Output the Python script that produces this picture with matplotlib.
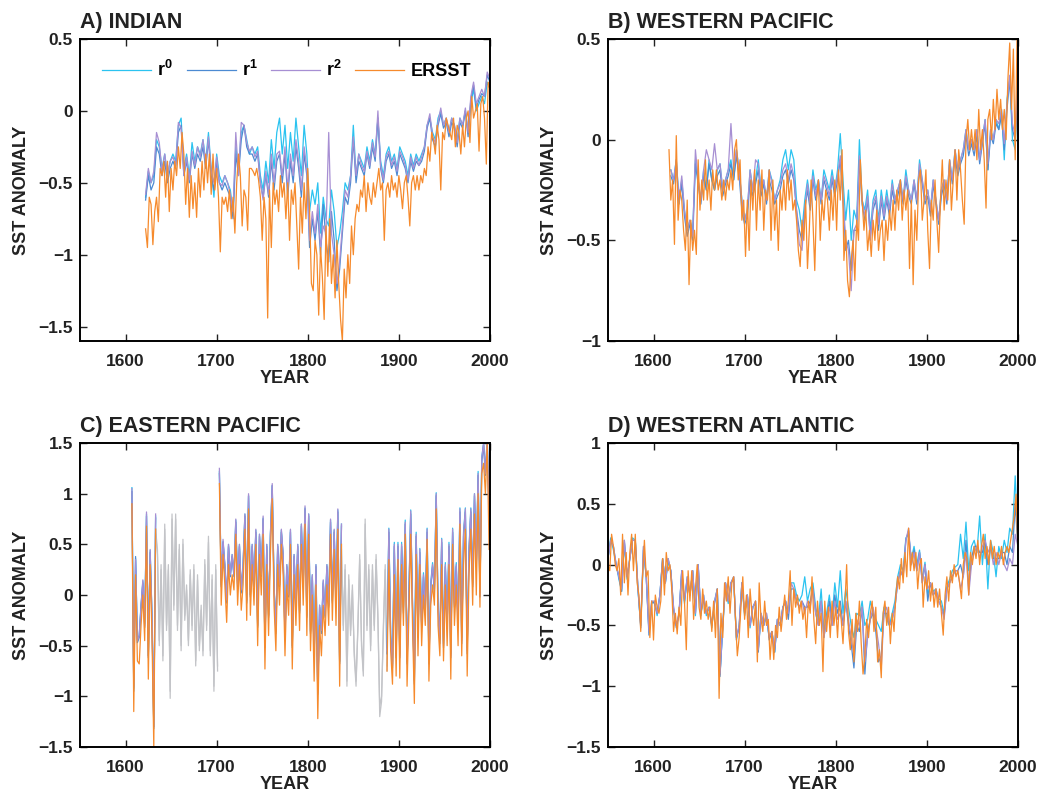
import numpy as np
import matplotlib
matplotlib.use('Agg')
import matplotlib.pyplot as plt
from matplotlib.ticker import FuncFormatter

plt.rcParams['font.family'] = ['Liberation Sans', 'DejaVu Sans']
plt.rcParams['font.weight'] = 'bold'
plt.rcParams['mathtext.fontset'] = 'custom'
plt.rcParams['mathtext.rm'] = 'Liberation Sans:bold'
plt.rcParams['mathtext.it'] = 'Liberation Sans:bold'
plt.rcParams['mathtext.bf'] = 'Liberation Sans:bold'

# ====================================================================
## A) INDIAN : ERSST every 2 yr from 1622, r-series every 3 yr from 1622
ersst_a = [-0.82, -0.95, -0.6, -0.65, -0.93, -0.7, -0.6, -0.77, -0.4, -0.45,
           -0.35, -0.6, -0.35, -0.7, -0.4, -0.55, -0.35, -0.45, -0.25, -0.4,
           -0.15, -0.3, -0.65, -0.4, -0.74, -0.45, -0.68, -0.5, -0.74, -0.4,
           -0.6, -0.35, -0.55, -0.3, -0.5, -0.3, -0.58, -0.3, -0.55, -0.4,
           -0.6, -0.98, -0.6, -0.65, -0.6, -0.7, -0.55, -0.75, -0.6, -0.85,
           -0.5, -0.3, -0.45, -0.8, -0.55, -0.6, -0.83, -0.4, -0.4, -0.42,
           -0.45, -0.4, -0.48, -0.6, -0.9, -0.6, -0.75, -1.44, -0.55, -0.95,
           -0.5, -0.65, -0.55, -0.7, -0.45, -0.6, -0.5, -0.75, -0.5, -0.9,
           -0.55, -0.65, -0.5, -0.8, -1.1, -0.6, -0.85, -0.5, -0.75, -0.4,
           -0.7, -1.2, -1.25, -0.9, -1.0, -1.42, -0.95, -1.15, -1.45, -0.8,
           -1.15, -0.75, -1.2, -1.0, -1.3, -0.9, -1.2, -1.45, -1.6, -1.1,
           -1.3, -1.0, -1.2, -0.8, -1.0, -0.75, -0.65, -0.7, -0.55, -0.6,
           -0.45, -0.7, -0.5, -0.6, -0.65, -0.5, -0.6, -0.5, -0.4, -0.55,
           -0.5, -0.9, -0.55, -0.5, -0.6, -0.45, -0.55, -0.5, -0.6, -0.45,
           -0.55, -0.68, -0.5, -0.45, -0.6, -0.8, -0.5, -0.45, -0.55, -0.45,
           -0.55, -0.45, -0.5, -0.4, -0.45, -0.25, -0.35, -0.15, -0.2, -0.3,
           -0.1, -0.2, -0.55, -0.15, -0.2, -0.05, -0.1, -0.15, -0.2, -0.05,
           -0.25, -0.1, -0.15, -0.3, -0.1, -0.25, -0.05, 0.0, -0.22, 0.1,
           -0.05, 0.0, 0.05, -0.28, 0.05, 0.1, -0.05, -0.37, 0.2, 0.15]
r0_a = [-0.6, -0.42, -0.5, -0.45, -0.2, -0.25, -0.4, -0.3, -0.45, -0.35,
        -0.3, -0.35, -0.1, -0.05, -0.4, -0.3, -0.45, -0.22, -0.35, -0.25,
        -0.3, -0.2, -0.35, -0.15, -0.4, -0.6, -0.3, -0.45, -0.5, -0.45,
        -0.5, -0.55, -0.7, -0.25, -0.4, -0.15, -0.1, -0.2, -0.3, -0.25,
        -0.3, -0.25, -0.45, -0.55, -0.35, -0.5, -0.2, -0.4, -0.15, -0.05,
        -0.3, -0.1, -0.4, -0.15, -0.35, -0.05, -0.25, -0.45, -0.1, -0.3,
        -0.7, -0.55, -0.65, -0.5, -0.85, -0.6, -0.75, -0.8, -0.55, -0.7,
        -0.95, -0.85, -0.7, -0.5, -0.55, -0.45, -0.1, -0.45, -0.3, -0.35,
        -0.4, -0.25, -0.35, -0.2, -0.3, -0.05, -0.35, -0.45, -0.3, -0.25,
        -0.35, -0.3, -0.4, -0.25, -0.3, -0.35, -0.45, -0.3, -0.38, -0.3,
        -0.35, -0.3, -0.25, -0.1, -0.05, -0.15, -0.2, -0.05, 0.0, -0.1,
        -0.05, -0.15, -0.05, -0.1, -0.2, -0.05, -0.1, 0.0, -0.15, 0.05,
        0.15, 0.0, 0.05, 0.1, 0.05, 0.2, 0.15]
r1_a = [-0.62, -0.45, -0.55, -0.5, -0.25, -0.3, -0.45, -0.35, -0.5, -0.4,
        -0.35, -0.4, -0.15, -0.1, -0.45, -0.35, -0.5, -0.3, -0.4, -0.3,
        -0.35, -0.25, -0.4, -0.2, -0.45, -0.55, -0.35, -0.5, -0.55, -0.5,
        -0.55, -0.6, -0.75, -0.3, -0.45, -0.2, -0.1, -0.25, -0.3, -0.3,
        -0.35, -0.3, -0.5, -0.6, -0.45, -0.6, -0.35, -0.55, -0.35, -0.3,
        -0.5, -0.3, -0.6, -0.35, -0.5, -0.25, -0.4, -0.6, -0.3, -0.45,
        -0.95, -0.75, -0.9, -0.7, -1.0, -0.65, -0.9, -1.05, -0.7, -0.9,
        -1.25, -1.1, -0.85, -0.6, -0.65, -0.5, -0.2, -0.5, -0.35, -0.4,
        -0.45, -0.3, -0.4, -0.25, -0.35, -0.05, -0.4, -0.5, -0.35, -0.3,
        -0.4, -0.35, -0.45, -0.3, -0.35, -0.4, -0.5, -0.35, -0.42, -0.35,
        -0.38, -0.35, -0.28, -0.12, -0.05, -0.2, -0.25, -0.1, -0.02, -0.12,
        -0.08, -0.18, -0.08, -0.12, -0.25, -0.08, -0.12, 0.0, -0.18, 0.08,
        0.18, 0.02, 0.08, 0.12, 0.1, 0.25, 0.2]
r2_a = [-0.58, -0.4, -0.5, -0.42, -0.15, -0.22, -0.42, -0.3, -0.45, -0.35,
        -0.32, -0.38, -0.08, -0.12, -0.45, -0.32, -0.48, -0.28, -0.38, -0.25,
        -0.32, -0.2, -0.38, -0.18, -0.42, -0.5, -0.32, -0.5, -0.52, -0.45,
        -0.5, -0.58, -0.7, -0.15, -0.45, -0.08, -0.1, -0.22, -0.28, -0.25,
        -0.32, -0.28, -0.5, -0.62, -0.42, -0.58, -0.3, -0.5, -0.3, -0.28,
        -0.45, -0.25, -0.55, -0.3, -0.45, -0.2, -0.35, -0.55, -0.25, -0.4,
        -0.9, -0.7, -0.85, -0.65, -0.95, -0.8, -0.85, -0.15, -0.85, -1.0,
        -1.2, -1.05, -0.8, -0.55, -0.6, -0.45, -0.18, -0.45, -0.3, -0.38,
        -0.42, -0.28, -0.38, -0.22, -0.32, 0.0, -0.38, -0.48, -0.32, -0.28,
        -0.38, -0.32, -0.42, -0.28, -0.32, -0.38, -0.48, -0.32, -0.4, -0.32,
        -0.38, -0.32, -0.25, -0.1, -0.02, -0.18, -0.22, -0.08, 0.02, -0.1,
        -0.05, -0.15, -0.05, -0.1, -0.22, -0.05, -0.1, 0.02, -0.15, 0.1,
        0.2, 0.05, 0.1, 0.15, 0.1, 0.27, 0.22]

# ====================================================================
## B) WESTERN PACIFIC : ERSST every 2 yr from 1617, r-series every 3 yr from 1619
ersst_b = [-0.05, -0.3, -0.2, -0.52, 0.02, -0.4, -0.25, -0.3, -0.45, -0.55,
           -0.3, -0.72, -0.4, -0.55, -0.45, -0.57, -0.1, -0.35, -0.2, -0.3,
           -0.1, -0.3, -0.2, -0.35, -0.15, -0.25, -0.15, -0.25, -0.2, -0.3,
           -0.2, -0.3, -0.2, -0.25, -0.15, -0.25, -0.05, 0.0, -0.2, -0.1,
           -0.4, -0.3, -0.58, -0.3, -0.55, -0.2, -0.35, -0.15, -0.45, -0.2,
           -0.35, -0.15, -0.45, -0.25, -0.3, -0.15, -0.5, -0.2, -0.45, -0.3,
           -0.55, -0.25, -0.35, -0.2, -0.35, -0.15, -0.3, -0.2, -0.35, -0.3,
           -0.4, -0.55, -0.63, -0.4, -0.5, -0.3, -0.64, -0.45, -0.2, -0.4,
           -0.65, -0.3, -0.2, -0.5, -0.3, -0.4, -0.25, -0.3, -0.45, -0.25,
           -0.4, -0.2, -0.45, -0.15, -0.3, -0.05, -0.6, -0.45, -0.7, -0.78,
           -0.6, -0.5, -0.7, -0.4, -0.5, -0.1, -0.3, -0.45, -0.35, -0.55,
           -0.45, -0.58, -0.4, -0.5, -0.35, -0.55, -0.45, -0.4, -0.6, -0.4,
           -0.5, -0.35, -0.45, -0.3, -0.45, -0.25, -0.35, -0.2, -0.4, -0.25,
           -0.35, -0.25, -0.64, -0.3, -0.72, -0.35, -0.5, -0.2, -0.15, -0.4,
           -0.3, -0.15, -0.45, -0.64, -0.3, -0.4, -0.2, -0.4, -0.56, -0.3,
           -0.1, -0.35, -0.2, -0.3, -0.1, -0.35, -0.2, -0.05, -0.3, -0.05,
           -0.15, -0.3, -0.42, 0.0, 0.1, -0.05, 0.05, -0.05, 0.05, -0.1,
           0.15, -0.05, 0.05, -0.1, -0.34, 0.1, 0.15, 0.0, 0.2, 0.05,
           0.25, 0.1, 0.2, 0.05, 0.15, 0.0, 0.3, 0.48, 0.15, 0.45,
           -0.1, 0.5]
r0_b = [-0.15, -0.2, -0.1, -0.3, -0.2, -0.35, -0.45, -0.4, -0.45, -0.1,
        -0.2, -0.3, -0.15, -0.25, -0.1, -0.2, -0.25, -0.15, -0.12, -0.25,
        -0.2, -0.15, -0.1, -0.2, -0.05, -0.15, -0.3, -0.4, -0.35, -0.15,
        -0.25, -0.2, -0.1, -0.25, -0.2, -0.3, -0.15, -0.2, -0.3, -0.25,
        -0.2, -0.1, -0.05, -0.15, -0.05, -0.1, -0.3, -0.35, -0.45, -0.3,
        -0.2, -0.3, -0.15, -0.25, -0.2, -0.3, -0.15, -0.2, -0.25, -0.15,
        -0.25, -0.15, 0.03, -0.2, -0.4, -0.25, -0.5, -0.35, -0.4, -0.0,
        -0.3, -0.35, -0.25, -0.45, -0.3, -0.25, -0.4, -0.25, -0.35, -0.25,
        -0.35, -0.2, -0.3, -0.25, -0.2, -0.3, -0.15, -0.25, -0.3, -0.2,
        -0.3, -0.1, -0.2, -0.3, -0.25, -0.35, -0.2, -0.3, -0.4, -0.25,
        -0.2, -0.3, -0.1, -0.2, -0.05, -0.15, -0.1, -0.05, 0.05, -0.05,
        0.0, -0.05, 0.05, -0.1, 0.0, 0.1, -0.15, 0.05, 0.0, 0.1,
        0.05, 0.15, -0.1, 0.2, 0.3, 0.0, -0.05, 0.35]
r1_b = [-0.18, -0.22, -0.12, -0.32, -0.22, -0.38, -0.48, -0.42, -0.5, -0.12,
        -0.22, -0.32, -0.18, -0.25, -0.12, -0.2, -0.25, -0.18, -0.15, -0.28,
        -0.22, -0.18, -0.12, -0.2, -0.08, -0.18, -0.35, -0.42, -0.38, -0.2,
        -0.28, -0.22, -0.15, -0.28, -0.22, -0.32, -0.2, -0.25, -0.32, -0.28,
        -0.25, -0.18, -0.15, -0.22, -0.15, -0.2, -0.35, -0.45, -0.5, -0.35,
        -0.25, -0.35, -0.2, -0.3, -0.22, -0.32, -0.2, -0.25, -0.3, -0.2,
        -0.28, -0.2, -0.1, -0.3, -0.55, -0.5, -0.65, -0.45, -0.45, -0.1,
        -0.32, -0.4, -0.3, -0.48, -0.35, -0.3, -0.45, -0.3, -0.4, -0.3,
        -0.38, -0.25, -0.32, -0.28, -0.22, -0.32, -0.2, -0.28, -0.32, -0.22,
        -0.32, -0.15, -0.22, -0.32, -0.28, -0.38, -0.22, -0.32, -0.42, -0.28,
        -0.22, -0.32, -0.12, -0.22, -0.08, -0.18, -0.12, -0.08, 0.02, -0.08,
        -0.02, -0.08, 0.02, -0.12, -0.02, 0.08, -0.15, 0.02, -0.02, 0.08,
        0.05, 0.12, -0.05, 0.15, 0.3, 0.05, 0.0, 0.25]
r2_b = [-0.15, -0.2, -0.1, -0.3, -0.18, -0.35, -0.45, -0.4, -0.48, -0.05,
        -0.2, -0.3, -0.15, -0.05, -0.1, -0.15, -0.02, -0.15, -0.12, -0.25,
        -0.2, -0.15, 0.08, -0.15, -0.05, -0.15, -0.3, -0.4, -0.35, -0.15,
        -0.25, -0.1, -0.12, -0.25, -0.2, -0.3, -0.15, -0.22, -0.3, -0.25,
        -0.22, -0.15, -0.12, -0.2, -0.12, -0.18, -0.35, -0.52, -0.55, -0.35,
        -0.22, -0.32, -0.18, -0.28, -0.2, -0.3, -0.18, -0.22, -0.28, -0.18,
        -0.25, -0.18, -0.08, -0.28, -0.5, -0.55, -0.75, -0.45, -0.42, -0.08,
        -0.3, -0.38, -0.28, -0.5, -0.32, -0.28, -0.42, -0.28, -0.38, -0.28,
        -0.35, -0.22, -0.3, -0.25, -0.2, -0.3, -0.18, -0.25, -0.3, -0.2,
        -0.3, -0.12, -0.2, -0.3, -0.25, -0.35, -0.2, -0.3, -0.4, -0.25,
        -0.2, -0.3, -0.1, -0.2, -0.05, -0.15, -0.1, -0.05, 0.05, -0.05,
        0.0, -0.05, 0.05, -0.1, 0.0, 0.1, -0.12, 0.05, 0.0, 0.1,
        0.08, 0.15, -0.02, 0.18, 0.32, 0.08, 0.02, 0.38]

# ====================================================================
## C) EASTERN PACIFIC : three pieces every 2 yr (1607-1633, 1703-1837, 1887-1999)
## grey records fill the gaps (1633-1701, 1837-1887)
ersst_c1 = [0.9, -1.15, 0.2, -0.65, -0.68, -0.3, 0.0, -0.45, 0.68, -0.83, 0.3, -0.4, -1.5, 0.65]
ersst_c2 = [1.1, -0.1, 0.4, 0.1, -0.27, 0.3, 0.0, 0.2, 0.05, 0.6,
            -0.1, 0.3, -0.15, 0.1, 0.65, -0.25, 0.85, -0.2, 0.3, -0.1,
            0.5, -0.5, 0.4, 0.0, 0.6, -0.73, 0.3, -0.4, 0.4, 0.95,
            -0.1, -0.55, 0.3, -0.1, 0.5, 0.2, -0.6, 0.1, -0.2, 0.5,
            -0.73, 0.2, -0.3, 0.3, -0.35, 0.5, -0.1, 0.7, -0.4, 0.6,
            -0.55, 0.0, -0.85, 0.1, -1.22, -0.3, -0.6, -0.1, -0.4, 0.1,
            -0.3, 0.6, -0.25, 0.45, -0.3, 0.65, -0.9, 0.5]
ersst_c3 = [-0.75, 0.35, -0.55, -0.88, 0.2, -0.8, 0.35, -0.82, 0.3, -0.3,
            0.6, -0.9, -0.2, 0.6, -0.3, -1.07, 0.4, -0.6, 0.3, -0.5,
            0.0, -0.3, 0.55, -0.85, -0.1, 0.1, -0.1, 0.85, -0.3, -0.6,
            0.3, -0.65, 0.1, -0.5, 0.3, -0.83, 0.5, -0.3, 0.1, -0.5,
            0.7, -0.6, 0.3, 0.65, -0.8, 0.2, 0.65, -0.1, 0.8, 0.0,
            1.0, -0.12, 1.2, 1.3, 1.0, 1.5, 0.45]
r0_c1 = [1.06, -0.92, 0.36, -0.44, -0.4, -0.1, 0.14, -0.28, 0.8, -0.6, 0.44, -0.2, -1.3, 0.78]
r0_c2 = [1.22, 0.1, 0.53, 0.3, -0.06, 0.5, 0.2, 0.4, 0.2, 0.74,
         0.1, 0.5, 0.04, 0.3, 0.8, -0.06, 0.98, 0.0, 0.5, 0.1,
         0.64, -0.3, 0.6, 0.2, 0.76, -0.5, 0.5, -0.2, 0.6, 1.08,
         0.1, -0.36, 0.5, 0.1, 0.64, 0.4, -0.4, 0.3, 0.0, 0.64,
         -0.5, 0.4, -0.1, 0.5, -0.16, 0.7, 0.1, 0.86, -0.2, 0.8,
         -0.36, 0.2, -0.6, 0.3, -0.96, -0.1, -0.36, 0.14, -0.2, 0.3,
         -0.1, 0.74, -0.06, 0.64, -0.1, 0.84, -0.66, 0.7]
r0_c3 = [-0.52, 0.66, -0.38, -0.68, 0.52, -0.58, 0.52, -0.58, 0.52, -0.12,
         0.74, -0.66, 0.02, 0.84, -0.08, -0.84, 0.62, -0.38, 0.46, -0.28,
         0.22, -0.12, 0.66, -0.62, 0.12, 0.32, 0.06, 1.01, -0.08, -0.42,
         0.56, -0.48, 0.32, -0.28, 0.52, -0.58, 0.66, -0.08, 0.32, -0.28,
         0.86, -0.42, 0.62, 0.86, -0.52, 0.46, 0.86, 0.12, 1.0, 0.32,
         1.22, 0.02, 1.36, 1.5, 1.22, 1.55, 0.82]
r1_c1 = [1.02, -0.95, 0.38, -0.47, -0.42, -0.12, 0.12, -0.32, 0.78, -0.62, 0.42, -0.22, -1.32, 0.76]
r1_c2 = [1.2, 0.08, 0.52, 0.28, -0.08, 0.48, 0.18, 0.38, 0.18, 0.72,
         0.08, 0.48, 0.02, 0.28, 0.78, -0.08, 0.98, -0.02, 0.48, 0.08,
         0.62, -0.32, 0.58, 0.18, 0.75, -0.52, 0.48, -0.22, 0.58, 1.08,
         0.08, -0.38, 0.48, 0.08, 0.62, 0.38, -0.42, 0.28, -0.02, 0.62,
         -0.52, 0.38, -0.12, 0.48, -0.18, 0.68, 0.08, 0.85, -0.22, 0.78,
         -0.38, 0.18, -0.62, 0.28, -0.98, -0.12, -0.38, 0.12, -0.22, 0.28,
         -0.12, 0.72, -0.08, 0.62, -0.12, 0.82, -0.68, 0.68]
r1_c3 = [-0.58, 0.62, -0.42, -0.72, 0.48, -0.62, 0.48, -0.62, 0.48, -0.18,
         0.7, -0.68, -0.02, 0.8, -0.12, -0.88, 0.58, -0.42, 0.42, -0.32,
         0.18, -0.18, 0.62, -0.68, 0.08, 0.28, 0.02, 0.98, -0.12, -0.48,
         0.52, -0.52, 0.28, -0.32, 0.48, -0.62, 0.62, -0.12, 0.28, -0.32,
         0.82, -0.48, 0.58, 0.82, -0.58, 0.42, 0.82, 0.08, 0.98, 0.28,
         1.18, -0.02, 1.32, 1.48, 1.18, 1.52, 0.78]
r2_c1 = [1.05, -0.9, 0.35, -0.45, -0.4, -0.1, 0.15, -0.3, 0.82, -0.6, 0.45, -0.2, -1.3, 0.8]
r2_c2 = [1.25, 0.1, 0.55, 0.3, -0.05, 0.5, 0.2, 0.4, 0.2, 0.75,
         0.1, 0.5, 0.05, 0.3, 0.8, -0.05, 1.0, 0.0, 0.5, 0.1,
         0.65, -0.3, 0.6, 0.2, 0.78, -0.5, 0.5, -0.2, 0.6, 1.1,
         0.1, -0.35, 0.5, 0.1, 0.65, 0.4, -0.4, 0.3, 0.0, 0.65,
         -0.5, 0.4, -0.1, 0.5, -0.15, 0.7, 0.1, 0.88, -0.2, 0.8,
         -0.35, 0.2, -0.6, 0.3, -0.95, -0.1, -0.35, 0.15, -0.2, 0.3,
         -0.1, 0.75, -0.05, 0.65, -0.1, 0.85, -0.65, 0.7]
r2_c3 = [-0.55, 0.65, -0.4, -0.7, 0.5, -0.6, 0.5, -0.6, 0.5, -0.15,
         0.72, -0.65, 0.0, 0.83, -0.1, -0.85, 0.6, -0.4, 0.45, -0.3,
         0.2, -0.15, 0.65, -0.65, 0.1, 0.3, 0.05, 1.0, -0.1, -0.45,
         0.55, -0.5, 0.3, -0.3, 0.5, -0.6, 0.65, -0.1, 0.3, -0.3,
         0.85, -0.45, 0.6, 0.85, -0.55, 0.45, 0.85, 0.1, 1.0, 0.3,
         1.2, 0.0, 1.35, 1.5, 1.2, 1.55, 0.8]
grey1_c1 = [0.65, 0.45, -0.45, 0.3, -0.65, 0.7, -0.3, 0.3, -1.02, 0.8,
            -0.1, 0.8, -0.3, 0.5, -0.5, 0.55, -0.2, 0.1, -0.45, 0.25,
            -0.3, 0.3, -0.7, 0.2, -0.5, -0.1, -0.6, 0.35, -0.3, 0.58,
            -0.6, 0.2, -0.95, 0.3, -0.75]
grey2_c1 = [0.6, 0.4, -0.5, 0.25, -0.6, 0.65, -0.35, 0.25, -0.95, 0.75,
            -0.15, 0.75, -0.35, 0.45, -0.55, 0.5, -0.25, 0.05, -0.5, 0.2,
            -0.35, 0.25, -0.65, 0.15, -0.55, -0.15, -0.55, 0.3, -0.35, 0.52,
            -0.55, 0.15, -0.9, 0.25, -0.7]
grey1_c2 = [0.5, -0.3, 0.3, -0.9, 0.2, -0.35, 0.1, -0.6, -0.9, -0.3,
            0.4, -0.5, -0.8, 0.75, -0.3, 0.3, -0.55, 0.3, -0.3, 0.4,
            -0.2, -1.2, -1.05, -0.3, 0.3, -0.75]
grey2_c2 = [0.45, -0.35, 0.25, -0.85, 0.15, -0.4, 0.05, -0.55, -0.85, -0.35,
            0.35, -0.45, -0.75, 0.7, -0.35, 0.25, -0.5, 0.25, -0.35, 0.35,
            -0.25, -1.1, -1.0, -0.35, 0.25, -0.7]

# ====================================================================
## D) WESTERN ATLANTIC : ERSST every 2 yr from 1550, r-series every 3 yr from 1550
ersst_d = [0.0, -0.05, 0.25, 0.15, 0.0, -0.05, 0.05, -0.25, 0.25, -0.15,
           0.1, -0.25, 0.1, 0.25, -0.05, 0.25, -0.15, -0.25, -0.55, -0.1,
           0.2, -0.1, -0.05, -0.6, -0.3, -0.62, -0.25, -0.35, -0.4, -0.3,
           0.05, -0.25, 0.1, -0.05, 0.0, -0.2, -0.55, -0.4, -0.57, -0.35,
           -0.5, -0.05, -0.3, -0.7, -0.05, -0.3, -0.05, -0.45, -0.2, 0.0,
           -0.35, -0.45, -0.2, -0.4, -0.3, -0.45, -0.35, -0.55, -0.3, -0.6,
           -0.2, -1.1, -0.4, -0.6, -0.15, -0.3, -0.1, -0.4, -0.15, -0.1,
           -0.45, -0.75, -0.6, -0.35, -0.1, -0.45, -0.25, -0.6, -0.2, -0.4,
           -0.5, -0.3, -0.8, -0.15, -0.45, -0.55, -0.3, -0.5, -0.45, -0.78,
           -0.55, -0.78, -0.5, -0.6, -0.35, -0.55, -0.4, -0.25, -0.45, -0.3,
           -0.05, -0.5, -0.2, -0.35, -0.25, -0.4, -0.3, -0.45, -0.35, -0.6,
           -0.3, -0.4, -0.1, -0.45, -0.65, -0.3, -0.5, -0.4, -0.88, -0.3,
           -0.55, -0.35, -0.6, -0.3, -0.5, -0.35, -0.6, -0.3, -0.45, -0.65,
           -0.35, 0.0, -0.55, -0.7, -0.45, -0.8, -0.4, -0.55, -0.3, -0.65,
           -0.9, -0.75, -0.45, -0.6, -0.4, -0.3, -0.55, -0.35, -0.8, -0.7,
           -0.93, -0.4, -0.3, -0.5, -0.35, -0.65, -0.4, -0.55, -0.25, -0.1,
           -0.2, 0.05, -0.15, 0.1, -0.1, 0.3, -0.05, 0.1, -0.05, 0.1,
           -0.2, 0.0, 0.05, -0.35, -0.1, -0.2, -0.05, -0.3, -0.15, -0.35,
           -0.2, -0.35, -0.2, -0.4, -0.58, -0.25, -0.1, -0.3, -0.05, -0.15,
           0.0, -0.1, -0.05, -0.15, -0.28, 0.0, 0.1, 0.05, -0.25, 0.1,
           0.0, 0.15, 0.05, 0.2, 0.0, 0.15, 0.25, 0.05, 0.15, 0.0,
           0.2, 0.05, 0.15, 0.0, 0.1, 0.05, 0.15, 0.0, 0.1, 0.15,
           0.1, 0.2, 0.3, 0.4, 0.58, 0.1]
r0_d = [0.05, 0.22, 0.12, 0.0, -0.12, -0.22, 0.18, -0.12, 0.05, 0.22,
        0.2, -0.22, -0.5, 0.12, -0.1, -0.55, -0.32, -0.3, -0.42, -0.25,
        0.05, -0.15, 0.02, -0.05, -0.38, -0.5, -0.42, -0.05, -0.32, -0.1,
        -0.25, -0.05, -0.42, 0.0, -0.42, -0.25, -0.42, -0.35, -0.52, -0.3,
        -0.2, -0.9, -0.52, -0.15, -0.32, -0.15, -0.12, -0.6, -0.52, -0.15,
        -0.42, -0.25, -0.52, -0.35, -0.32, -0.7, -0.42, -0.5, -0.42, -0.6,
        -0.55, -0.72, -0.45, -0.5, -0.35, -0.3, -0.4, -0.15, -0.15, -0.25,
        -0.3, -0.25, -0.1, -0.3, -0.2, -0.15, -0.35, -0.45, -0.2, -0.55,
        -0.4, -0.25, -0.45, -0.15, -0.35, -0.05, -0.4, -0.2, -0.35, -0.5,
        -0.6, -0.4, -0.42, -0.3, -0.5, -0.45, -0.3, -0.4, -0.45, -0.5,
        -0.55, -0.35, -0.45, -0.5, -0.4, -0.3, -0.1, 0.0, -0.05, 0.22,
        0.25, 0.05, 0.15, 0.0, 0.12, -0.12, 0.02, -0.25, -0.15, -0.22,
        -0.2, -0.28, -0.3, -0.4, -0.18, -0.12, -0.05, -0.02, 0.0, 0.25,
        0.05, 0.35, -0.05, 0.15, 0.2, 0.1, 0.4, 0.0, 0.25, -0.2,
        0.2, 0.1, -0.1, 0.15, 0.05, 0.2, 0.1, 0.3, 0.25, 0.73,
        0.2]
r1_d = [0.05, 0.2, 0.15, 0.0, -0.1, -0.22, 0.2, -0.1, 0.05, 0.2,
        0.2, -0.2, -0.52, 0.15, -0.1, -0.58, -0.3, -0.32, -0.4, -0.25,
        0.05, -0.15, 0.05, -0.05, -0.35, -0.52, -0.4, -0.05, -0.3, -0.12,
        -0.25, -0.05, -0.4, 0.0, -0.4, -0.28, -0.4, -0.35, -0.5, -0.32,
        -0.2, -0.92, -0.5, -0.15, -0.3, -0.15, -0.1, -0.62, -0.5, -0.15,
        -0.4, -0.25, -0.5, -0.35, -0.3, -0.72, -0.4, -0.5, -0.4, -0.62,
        -0.55, -0.72, -0.45, -0.5, -0.35, -0.3, -0.45, -0.2, -0.2, -0.3,
        -0.35, -0.3, -0.35, -0.35, -0.3, -0.2, -0.4, -0.5, -0.3, -0.6,
        -0.45, -0.3, -0.5, -0.25, -0.4, -0.3, -0.5, -0.3, -0.5, -0.65,
        -0.85, -0.5, -0.55, -0.35, -0.9, -0.55, -0.45, -0.4, -0.55, -0.8,
        -0.75, -0.4, -0.4, -0.5, -0.45, -0.35, -0.15, -0.05, -0.1, 0.2,
        0.28, 0.0, 0.12, -0.05, 0.1, -0.15, 0.0, -0.3, -0.15, -0.25,
        -0.22, -0.3, -0.35, -0.42, -0.2, -0.15, -0.1, -0.05, -0.05, 0.0,
        -0.1, 0.2, -0.2, 0.05, 0.15, 0.15, 0.1, 0.1, 0.2, 0.0,
        0.15, 0.05, 0.05, 0.05, 0.1, 0.1, 0.0, 0.15, 0.1, 0.5,
        0.15]
r2_d = [0.05, 0.2, 0.15, 0.0, -0.1, -0.2, 0.2, -0.1, 0.05, 0.2,
        0.2, -0.2, -0.5, 0.15, -0.1, -0.55, -0.3, -0.3, -0.4, -0.25,
        0.05, -0.15, 0.05, -0.05, -0.35, -0.5, -0.4, -0.05, -0.3, -0.1,
        -0.25, -0.05, -0.4, 0.0, -0.4, -0.25, -0.4, -0.35, -0.5, -0.3,
        -0.2, -0.9, -0.5, -0.15, -0.3, -0.15, -0.1, -0.6, -0.5, -0.15,
        -0.4, -0.25, -0.5, -0.35, -0.3, -0.7, -0.4, -0.5, -0.4, -0.6,
        -0.55, -0.7, -0.45, -0.5, -0.35, -0.3, -0.4, -0.15, -0.2, -0.3,
        -0.35, -0.3, -0.4, -0.3, -0.35, -0.2, -0.4, -0.5, -0.3, -0.6,
        -0.45, -0.35, -0.5, -0.3, -0.45, -0.4, -0.5, -0.3, -0.45, -0.6,
        -0.75, -0.45, -0.5, -0.35, -0.8, -0.6, -0.45, -0.35, -0.5, -0.65,
        -0.85, -0.4, -0.35, -0.5, -0.45, -0.35, -0.15, -0.05, -0.1, 0.2,
        0.3, 0.0, 0.1, -0.05, 0.1, -0.15, 0.0, -0.2, -0.15, -0.25,
        -0.2, -0.3, -0.35, -0.45, -0.2, -0.15, -0.1, -0.05, -0.05, -0.2,
        -0.1, 0.1, -0.25, 0.0, 0.1, 0.15, 0.05, 0.15, 0.2, 0.1,
        0.15, 0.0, 0.1, 0.0, 0.1, 0.0, -0.05, 0.05, 0.0, 0.25,
        0.15]

# ====================================================================
##colors and plotting helpers
c_r0 = '#2bc3f0'
c_r1 = '#4c8ad2'
c_r2 = '#a78fd3'
c_er = '#f68a2c'
c_grey = '#c3c4c8'
lw = 0.9

def plot_run(ax, start, step, vals, color, label=None):
    yrs = start + step * np.arange(len(vals))
    ax.plot(yrs, vals, color=color, lw=lw, label=label)

def minus_fmt(v, p):
    return ('%g' % v).replace('-', '\u2212')

fig = plt.figure(figsize=(10.61, 7.92), dpi=100)
ax_a = fig.add_axes([0.0754, 0.5694, 0.3864, 0.3814])
ax_b = fig.add_axes([0.5730, 0.5694, 0.3864, 0.3814])
ax_c = fig.add_axes([0.0754, 0.0568, 0.3864, 0.3838])
ax_d = fig.add_axes([0.5730, 0.0568, 0.3864, 0.3838])

## A
plot_run(ax_a, 1622, 3, r0_a, c_r0, 'r$^0$')
plot_run(ax_a, 1622, 3, r1_a, c_r1, 'r$^1$')
plot_run(ax_a, 1622, 3, r2_a, c_r2, 'r$^2$')
plot_run(ax_a, 1622, 2, ersst_a, c_er, 'ERSST')
## B
plot_run(ax_b, 1619, 3, r0_b, c_r0)
plot_run(ax_b, 1619, 3, r1_b, c_r1)
plot_run(ax_b, 1619, 3, r2_b, c_r2)
plot_run(ax_b, 1617, 2, ersst_b, c_er)
## C
for g1, g2, st in [(grey1_c1, grey2_c1, 1633), (grey1_c2, grey2_c2, 1837)]:
    plot_run(ax_c, st, 2, g1, c_grey)
    plot_run(ax_c, st, 2, g2, c_grey)
for st, a0, a1, a2, ae in [(1607, r0_c1, r1_c1, r2_c1, ersst_c1),
                           (1703, r0_c2, r1_c2, r2_c2, ersst_c2),
                           (1887, r0_c3, r1_c3, r2_c3, ersst_c3)]:
    plot_run(ax_c, st, 2, a0, c_r0)
    plot_run(ax_c, st, 2, a1, c_r1)
    plot_run(ax_c, st, 2, a2, c_r2)
    plot_run(ax_c, st, 2, ae, c_er)
## D
plot_run(ax_d, 1550, 3, r0_d, c_r0)
plot_run(ax_d, 1550, 3, r1_d, c_r1)
plot_run(ax_d, 1550, 3, r2_d, c_r2)
plot_run(ax_d, 1550, 2, ersst_d, c_er)

# ====================================================================
##axes styling
titles = ['A) INDIAN', 'B) WESTERN PACIFIC', 'C) EASTERN PACIFIC', 'D) WESTERN ATLANTIC']
ylims = [(-1.6, 0.5), (-1.0, 0.5), (-1.5, 1.5), (-1.5, 1.0)]
for ax, t, yl in zip([ax_a, ax_b, ax_c, ax_d], titles, ylims):
    ax.set_xlim(1550, 2000)
    ax.set_ylim(*yl)
    ax.set_xticks([1600, 1700, 1800, 1900, 2000])
    ax.set_yticks(np.arange(np.ceil(yl[0] * 2) / 2, yl[1] + 0.01, 0.5))
    ax.yaxis.set_major_formatter(FuncFormatter(minus_fmt))
    ax.tick_params(direction='in', top=True, right=True, length=5, width=1,
                   labelsize=12.5, colors='#222222')
    ax.tick_params(axis='x', pad=9)
    ax.tick_params(axis='y', pad=5)
    for s in ax.spines.values():
        s.set_linewidth(1.4)
    ax.set_xlabel('YEAR', fontsize=13, fontweight='bold', color='#222222', labelpad=1)
    ax.set_ylabel('SST ANOMALY', fontsize=13, fontweight='bold', color='#222222', labelpad=6)
    ax.set_title(t, loc='left', fontsize=15.5, fontweight='bold', color='#222222', pad=8)

ax_a.legend(ncol=4, loc='upper left', bbox_to_anchor=(0.015, 0.985), frameon=False,
            handlelength=2.7, handletextpad=0.35, columnspacing=0.75, fontsize=13)

fig.savefig('out.png', dpi=100)
plt.close()
